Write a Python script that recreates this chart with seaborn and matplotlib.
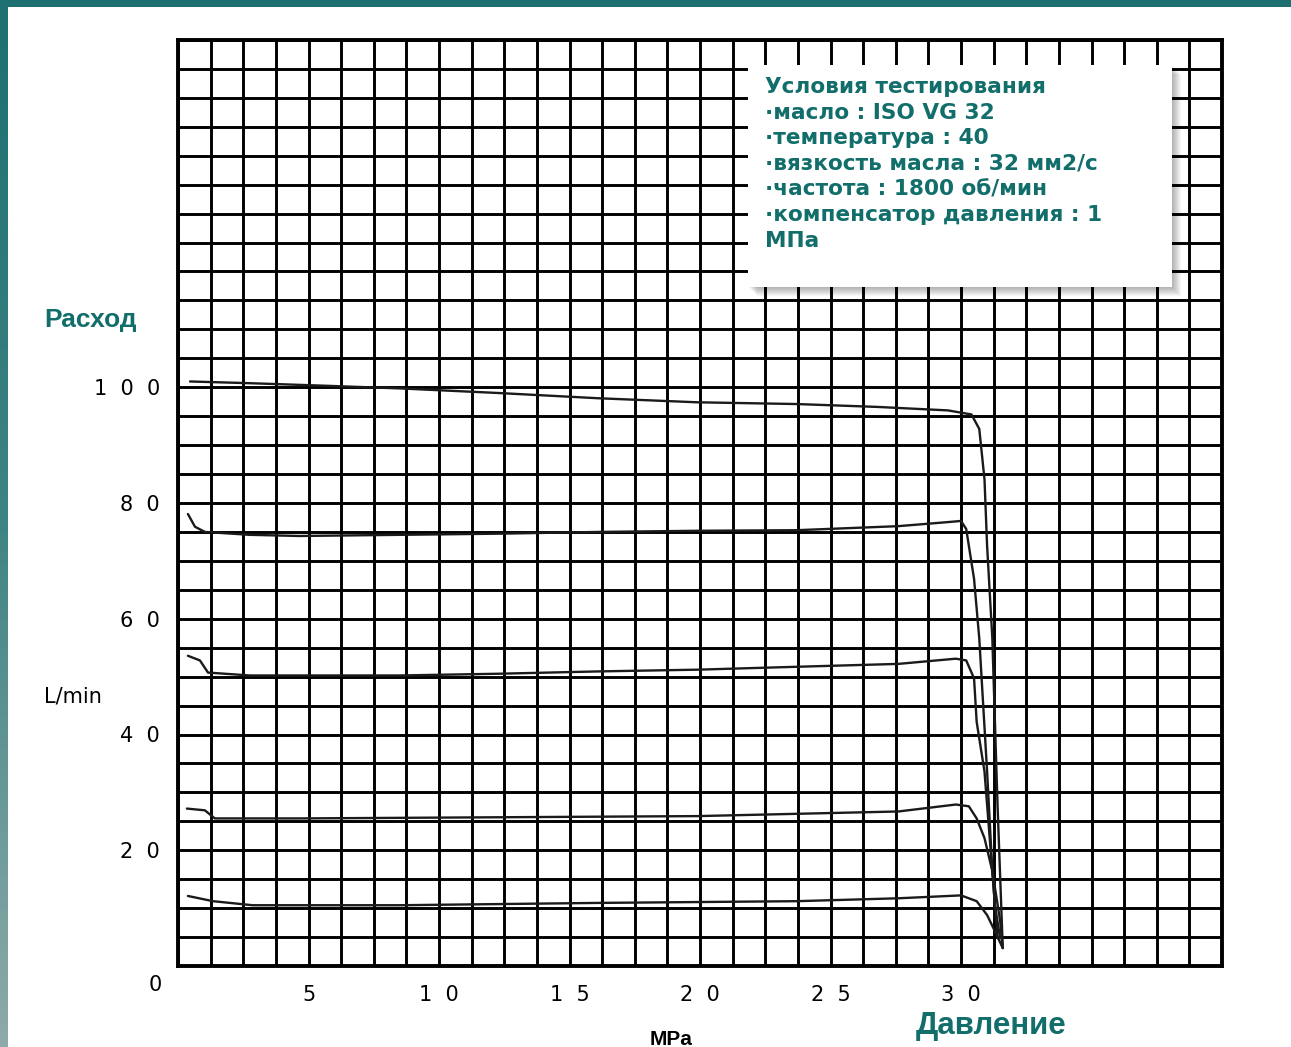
import pandas as pd
import numpy as np
import seaborn as sns
import matplotlib.pyplot as plt
from matplotlib.ticker import MultipleLocator, FixedLocator, FixedFormatter
from matplotlib.patches import Rectangle
from matplotlib.colors import LinearSegmentedColormap

W, H = 1291, 1047

# pressure (MPa) vs flow (L/min)
p_100 = [0.46, 2.75, 5.4, 8.5, 12.3, 16.1, 19.9, 23.7, 26.8, 29.5, 30.4, 30.7, 30.9, 31.0, 31.2, 31.4, 31.6]
q_100 = [101.0, 100.7, 100.3, 99.8, 99.0, 98.1, 97.4, 97.1, 96.6, 96.0, 95.3, 92.8, 84.1, 72.6, 56.6, 27.8, 3.1]

p_75 = [0.38, 0.65, 1.03, 2.75, 4.66, 8.5, 12.3, 16.1, 19.9, 23.7, 27.6, 29.5, 30.0, 30.2, 30.5, 30.7, 31.0, 31.2, 31.4]
q_75 = [78.1, 75.9, 75.0, 74.5, 74.3, 74.5, 74.7, 75.0, 75.2, 75.3, 76.0, 76.7, 76.9, 75.5, 66.9, 56.6, 33.6, 16.4, 4.8]

p_50 = [0.38, 0.84, 1.15, 2.75, 8.5, 12.3, 16.1, 19.9, 23.7, 27.6, 29.8, 30.2, 30.5, 30.6, 30.9, 31.1, 31.3, 31.5]
q_50 = [53.6, 52.8, 50.7, 50.2, 50.2, 50.5, 50.9, 51.2, 51.7, 52.2, 53.1, 52.8, 49.7, 42.2, 33.6, 22.1, 10.5, 4.8]

p_25 = [0.34, 1.03, 1.41, 4.66, 12.3, 19.9, 27.6, 29.8, 30.3, 30.6, 30.9, 31.2, 31.5, 31.6]
q_25 = [27.2, 26.9, 25.5, 25.5, 25.7, 25.9, 26.7, 27.9, 27.6, 25.5, 22.1, 16.4, 7.8, 3.1]

p_10 = [0.38, 1.34, 2.86, 8.5, 16.1, 23.7, 27.6, 30.0, 30.6, 31.0, 31.3, 31.6]
q_10 = [12.1, 11.2, 10.5, 10.5, 10.9, 11.2, 11.7, 12.2, 11.2, 8.8, 6.0, 3.1]

x_ticks = [5, 10, 15, 20, 25, 30]
y_ticks = [20, 40, 60, 80, 100]
x_labels = ["5", "1  0", "1  5", "2  0", "2  5", "3  0"]
y_labels = ["2  0", "4  0", "6  0", "8  0", "1  0  0"]

conditions = [
    "Условия тестирования",
    "·масло : ISO VG 32",
    "·температура : 40",
    "·вязкость масла : 32 мм2/с",
    "·частота : 1800 об/мин",
    "·компенсатор давления : 1",
    "МПа",
]

curves = {"100": (p_100, q_100), "75": (p_75, q_75), "50": (p_50, q_50),
          "25": (p_25, q_25), "10": (p_10, q_10)}
df = pd.concat([pd.DataFrame({"p": p, "q": q, "curve": k}) for k, (p, q) in curves.items()])

sns.set_style("white")
plt.rcParams['font.family'] = ['DejaVu Sans']

teal = "#126e6b"

def fx(px):
    return px / W

def fy(py):
    return 1 - py / H

fig = plt.figure(figsize=(W / 100, H / 100), dpi=100)
ax = fig.add_axes([fx(178), fy(966), fx(1222) - fx(178), fy(40) - fy(966)])

sns.lineplot(data=df, x="p", y="q", units="curve", estimator=None, sort=False,
             color="#1a1a1a", lw=1.7, ax=ax, zorder=5)

ax.set_xlim(0, 40)
ax.set_ylim(0, 160)
ax.xaxis.set_major_locator(FixedLocator(x_ticks))
ax.xaxis.set_major_formatter(FixedFormatter(x_labels))
ax.yaxis.set_major_locator(FixedLocator(y_ticks))
ax.yaxis.set_major_formatter(FixedFormatter(y_labels))
ax.xaxis.set_minor_locator(MultipleLocator(1.25))
ax.yaxis.set_minor_locator(MultipleLocator(5))
ax.grid(which="both", color="black", lw=2.1)
ax.set_axisbelow(True)
for s in ax.spines.values():
    s.set_color("black")
    s.set_linewidth(2.8)
ax.tick_params(which="major", length=4, width=2, color="black", labelsize=15,
               labelcolor="#000000")
ax.tick_params(axis="y", which="major", pad=9)
ax.tick_params(axis="x", which="major", pad=10)
ax.tick_params(which="minor", length=0)
ax.set_xlabel("")
ax.set_ylabel("")

ax.annotate("0", xy=(0, 0), xytext=(-23, -19), textcoords="offset pixels",
            ha="center", va="center", fontsize=15, color="#000000")

# teal frame of the slide
grad = LinearSegmentedColormap.from_list("edge", ["#1d6f70", "#3f8484", "#8eaaaa"])
edge = fig.add_axes([0, 0, fx(8), 1])
edge.imshow(np.linspace(0, 1, 256).reshape(-1, 1), aspect="auto", cmap=grad)
edge.set_axis_off()
fig.add_artist(Rectangle((0, fy(7)), 1, 7 / H, transform=fig.transFigure,
                         color="#1e6f70", lw=0, zorder=10))

# conditions box with soft shadow
bx0, by0, bx1, by1 = 748, 65, 1172, 287
for i in range(1, 10):
    fig.add_artist(Rectangle((fx(bx0 + i), fy(by1 + i)), (bx1 - bx0) / W, (by1 - by0) / H,
                             transform=fig.transFigure, color="black", alpha=0.035, lw=0,
                             zorder=8))
fig.add_artist(Rectangle((fx(bx0), fy(by1)), (bx1 - bx0) / W, (by1 - by0) / H,
                         transform=fig.transFigure, facecolor="white", lw=0, zorder=9))
for i, line in enumerate(conditions):
    fig.text(fx(765), fy(93 + 25.6 * i), line, ha="left", va="baseline",
             fontsize=15.6, fontweight="bold", color=teal, zorder=11)

fig.text(fx(90), fy(327), "Расход", ha="center", va="baseline", fontsize=19,
         fontweight="bold", color=teal, family=["Liberation Sans", "DejaVu Sans"])
fig.text(fx(991), fy(1034), "Давление", ha="center", va="baseline", fontsize=22.5,
         fontweight="bold", color=teal, family=["Liberation Sans", "DejaVu Sans"])
fig.text(fx(73), fy(697), "L/min", ha="center", va="center", fontsize=15,
         color="#000000")
fig.text(fx(671), fy(1045), "MPa", ha="center", va="baseline", fontsize=15,
         fontweight="bold", color="#000000",
         family=["Liberation Sans Narrow", "Liberation Sans", "DejaVu Sans"])

fig.savefig("out.png", dpi=100, facecolor="white")
